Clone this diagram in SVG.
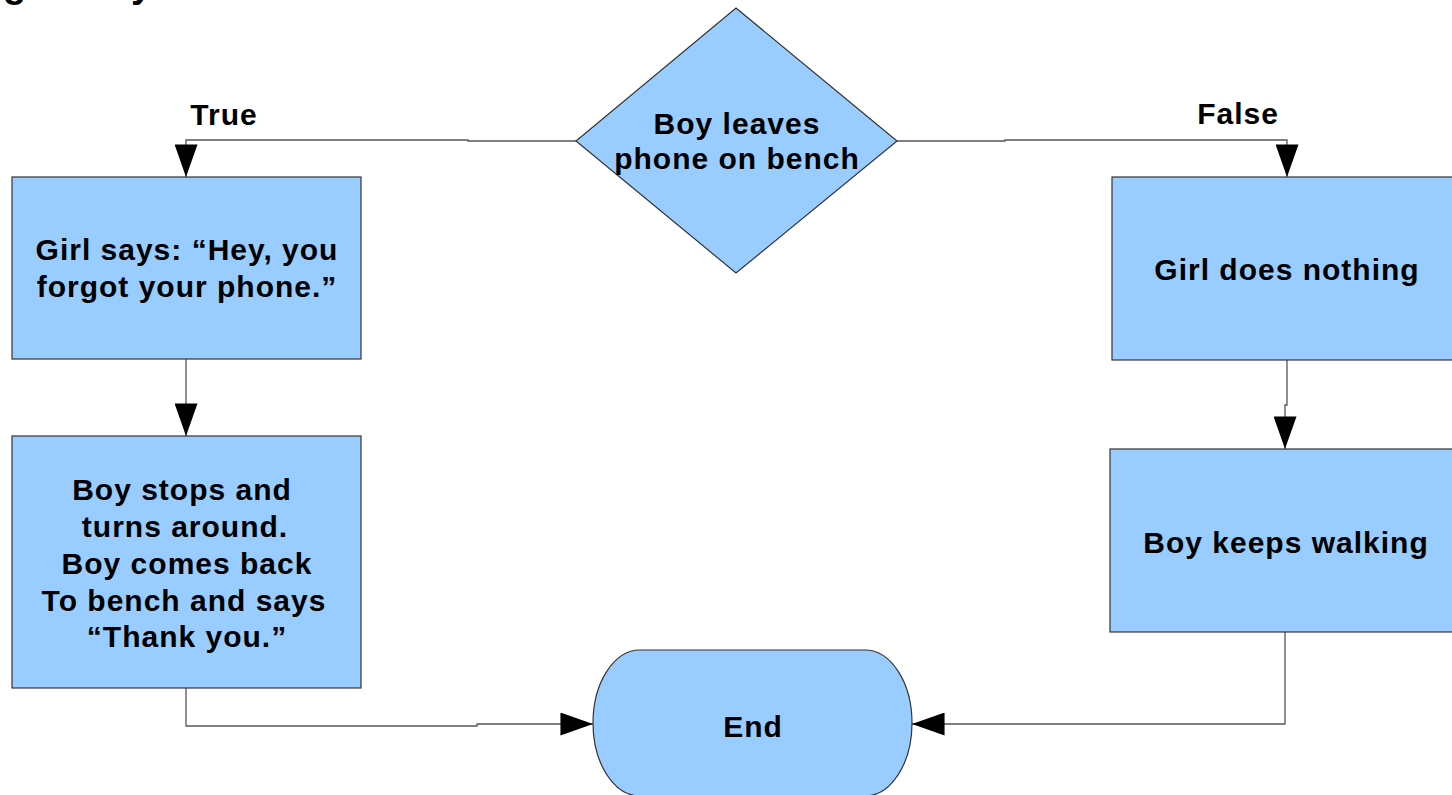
<svg xmlns="http://www.w3.org/2000/svg" width="1452" height="795" viewBox="0 0 1452 795">
<style>
.shape{fill:#99ccff;stroke:#333;stroke-width:1.2}
.lbl{font-family:"Liberation Sans",Arial,sans-serif;font-weight:bold;font-size:30px;letter-spacing:1px;fill:#000;text-anchor:middle}
.conn{fill:none;stroke:#555;stroke-width:1.3}
.ttl{font-family:"Liberation Sans",Arial,sans-serif;font-weight:bold;font-size:38px;fill:#000}
</style>
<defs>
<marker id="arr" viewBox="0 0 34 24" refX="34" refY="12" markerWidth="34" markerHeight="23" markerUnits="userSpaceOnUse" orient="auto">
<path d="M0,0 L34,12 L0,24 Z" fill="#000"/>
</marker>
</defs>
<rect width="1452" height="795" fill="#fff"/>
<g id="title">
<text class="ttl" x="3" y="-3">g</text>
<text class="ttl" x="131" y="-3">y</text>
</g>
<g id="connectors">
<path class="conn" d="M576,141 H468 V140 H186 V177" marker-end="url(#arr)"/>
<path class="conn" d="M897,141 H1005 V140 H1287 V177" marker-end="url(#arr)"/>
<path class="conn" d="M186,359 V436" marker-end="url(#arr)"/>
<path class="conn" d="M1287,360 V405 H1285 V449" marker-end="url(#arr)"/>
<path class="conn" d="M186,688 V726 H477 V724 H593" marker-end="url(#arr)"/>
<path class="conn" d="M1285,632 V724 H912" marker-end="url(#arr)"/>
<text class="lbl" x="224" y="125">True</text>
<text class="lbl" x="1238" y="124">False</text>
</g>
<g id="decision">
<polygon class="shape" points="736,8 897,141 736,273 576,141"/>
<text class="lbl" x="737" y="134">Boy leaves</text>
<text class="lbl" x="737" y="169">phone on bench</text>
</g>
<g id="girl-says">
<rect class="shape" x="12" y="177" width="349" height="182"/>
<text class="lbl" x="187" y="260">Girl says: “Hey, you</text>
<text class="lbl" x="187" y="297">forgot your phone.”</text>
</g>
<g id="boy-stops">
<rect class="shape" x="12" y="436" width="349" height="252"/>
<text class="lbl" x="182" y="500">Boy stops and</text>
<text class="lbl" x="185" y="537">turns around.</text>
<text class="lbl" x="187" y="574">Boy comes back</text>
<text class="lbl" x="184" y="611">To bench and says</text>
<text class="lbl" x="187" y="647">“Thank you.”</text>
</g>
<g id="girl-nothing">
<rect class="shape" x="1112" y="177" width="349" height="183"/>
<text class="lbl" x="1287" y="280">Girl does nothing</text>
</g>
<g id="boy-walking">
<rect class="shape" x="1110" y="449" width="349" height="183"/>
<text class="lbl" x="1286" y="553">Boy keeps walking</text>
</g>
<g id="end">
<path class="shape" d="M640,650 H865 A47,73 0 0 1 912,723 A47,73 0 0 1 865,796 H640 A47,73 0 0 1 593,723 A47,73 0 0 1 640,650 Z"/>
<text class="lbl" x="753" y="737">End</text>
</g>
</svg>
